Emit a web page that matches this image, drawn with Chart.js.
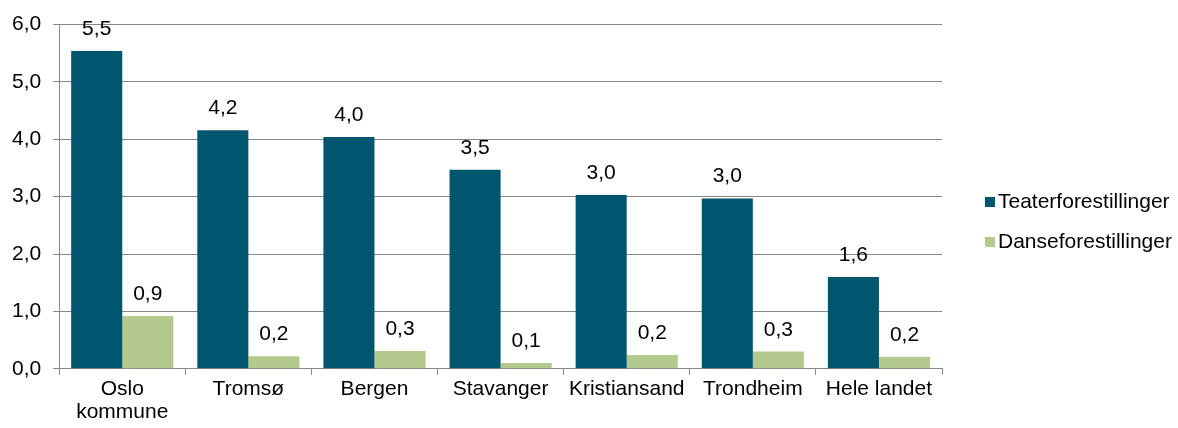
<!DOCTYPE html>
<html>
<head>
<meta charset="utf-8">
<script src="https://cdn.jsdelivr.net/npm/chart.js@4/dist/chart.umd.min.js"></script>
<style>
html,body{margin:0;padding:0;background:#fff;}
#wrap{position:relative;width:1178px;height:428px;}
</style>
</head>
<body>
<div id="wrap"><canvas id="c" width="1178" height="428"></canvas></div>
<script>
const categories = [['Oslo','kommune'], 'Tromsø', 'Bergen', 'Stavanger', 'Kristiansand', 'Trondheim', 'Hele landet'];
const seriesNames = ['Teaterforestillinger', 'Danseforestillinger'];
const teater = [5.54, 4.16, 4.04, 3.47, 3.03, 2.97, 1.6];
const danse = [0.92, 0.22, 0.31, 0.1, 0.24, 0.3, 0.21];
const yTicks = [0, 1, 2, 3, 4, 5, 6];

const FONT = '"Liberation Sans", Arial, sans-serif';
const FS = 21;
const fmt = v => v.toFixed(1).replace('.', ',');
const colors = ['#00566f', '#b3c98d'];

const dataLabels = {
  id: 'dataLabels',
  afterDatasetsDraw(chart) {
    const ctx = chart.ctx;
    ctx.save();
    ctx.font = FS + 'px ' + FONT;
    ctx.fillStyle = '#000';
    ctx.textAlign = 'center';
    ctx.textBaseline = 'alphabetic';
    chart.data.datasets.forEach((ds, i) => {
      chart.getDatasetMeta(i).data.forEach((bar, j) => {
        ctx.fillText(fmt(ds.data[j]), bar.x, bar.y - 16);
      });
    });
    ctx.restore();
  }
};

const customLegend = {
  id: 'customLegend',
  afterDraw(chart) {
    const ctx = chart.ctx;
    ctx.save();
    ctx.font = FS + 'px ' + FONT;
    ctx.textBaseline = 'middle';
    ctx.textAlign = 'left';
    const x = 985, ys = [202, 242];
    seriesNames.forEach((n, i) => {
      ctx.fillStyle = colors[i];
      ctx.fillRect(x, ys[i] - 5, 10, 10);
      ctx.fillStyle = '#000';
      ctx.fillText(n, x + 13, ys[i]);
    });
    ctx.restore();
  }
};

new Chart(document.getElementById('c'), {
  type: 'bar',
  data: {
    labels: categories,
    datasets: [
      { label: seriesNames[0], data: teater, backgroundColor: colors[0] },
      { label: seriesNames[1], data: danse, backgroundColor: colors[1] }
    ]
  },
  options: {
    responsive: false,
    animation: false,
    layout: { padding: { top: 24, right: 236, left: 0, bottom: 1 } },
    plugins: { legend: { display: false }, tooltip: { enabled: false } },
    datasets: { bar: { categoryPercentage: 0.81, barPercentage: 1.0 } },
    scales: {
      x: {
        grid: { offset: true, drawOnChartArea: false, drawTicks: true, tickLength: 6, color: '#888' },
        border: { color: '#888' },
        ticks: { color: '#000', font: { family: FONT, size: FS, lineHeight: 1.1 }, padding: 3, maxRotation: 0, autoSkip: false }
      },
      y: {
        min: 0, max: 6,
        afterBuildTicks: axis => { axis.ticks = yTicks.map(v => ({ value: v })); },
        grid: { color: '#888', tickLength: 6 },
        border: { color: '#888' },
        ticks: { color: '#000', font: { family: FONT, size: FS }, padding: 12, callback: v => fmt(v) }
      }
    }
  },
  plugins: [dataLabels, customLegend]
});
</script>
</body>
</html>
